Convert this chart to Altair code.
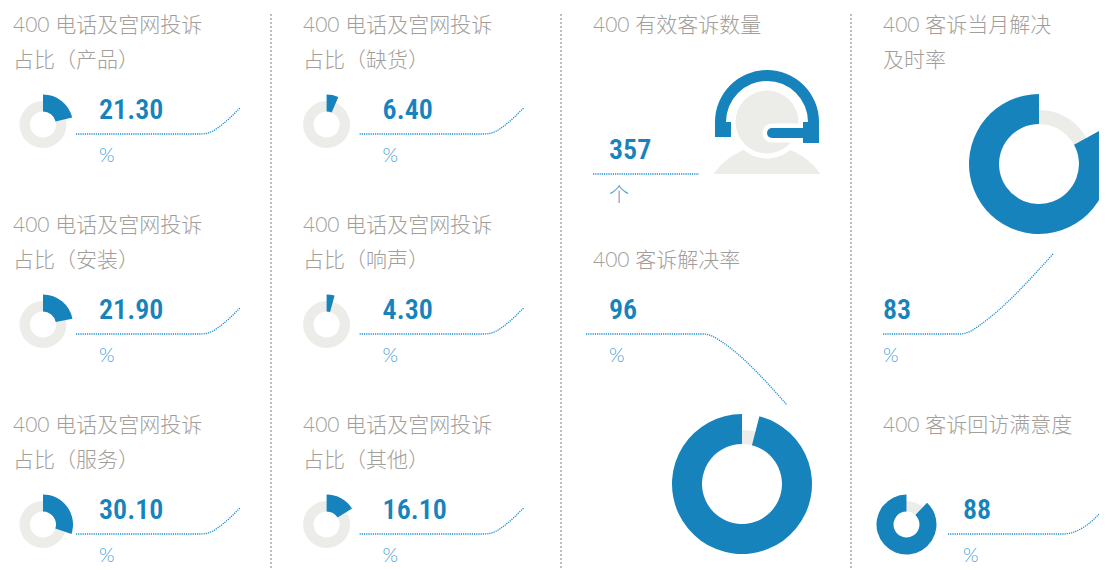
import altair as alt
import numpy as np
import pandas as pd

# ---- data ----
small_cats = ["产品", "安装", "服务", "缺货", "响声", "其他"]
small_vals = [21.30, 21.90, 30.10, 6.40, 4.30, 16.10]
effective_count = 357
resolve_rate = 96
timely_rate = 83
satisfaction = 88

BLUE = "#1783bd"
GREY = "#ecede8"
TITLE_C = "#a29e9a"
UNIT_C = "#4a9fd4"
CJK = "Lato, 'Noto Sans CJK SC'"
NUMF = "'Roboto Condensed',Roboto"

W, H = 1091, 562
X = lambda f="x": alt.X(f"{f}:Q", scale=alt.Scale(domain=[8, 8 + W], nice=False, zero=False), axis=None)
Y = lambda f="y": alt.Y(f"{f}:Q", scale=alt.Scale(domain=[8 + H, 8], nice=False, zero=False), axis=None)
THETA = alt.Scale(domain=[0, 100], range=[0, 2 * np.pi])

# ---- layout ----
title_x = [13, 303]
body_x = [13, 296.6]
row_y = [25, 225, 425]
titles, numbers, units, arcs, lines = [], [], [], [], []

def conn(idn, pts):
    for i, (x, y) in enumerate(pts):
        lines.append({"id": idn, "o": i, "x": x, "y": y})

CURVE = [(124, 0), (130, -0.5), (137, -3), (143, -7), (164, -26)]

k = 0
for c, cx in enumerate(title_x):
    bx = body_x[c]
    for r, ry in enumerate(row_y):
        titles.append({"x": cx, "y": ry + 1, "t": "400 电话及宫网投诉"})
        titles.append({"x": cx, "y": ry + 36, "t": f"占比（{small_cats[k]}）"})
        v = small_vals[k]
        numbers.append({"x": bx + 86, "y": ry + 86, "t": f"{v:.2f}"})
        units.append({"x": bx + 86, "y": ry + 131, "t": "%"})
        dx, dy = bx + 30, ry + 99.5
        arcs.append({"x": dx, "y": dy, "a": 0, "b": 100, "r": 23.5, "r2": 13, "k": "t"})
        arcs.append({"x": dx, "y": dy, "a": 0, "b": v, "r": 30, "r2": 13, "k": "v"})
        sx, sy = bx + 63, ry + 109
        conn(f"s{k}", [(sx, sy)] + [(sx + a, sy + b) for a, b in CURVE])
        k += 1

titles += [
    {"x": 593, "y": 26, "t": "400 有效客诉数量"},
    {"x": 883, "y": 26, "t": "400 客诉当月解决"},
    {"x": 883, "y": 61, "t": "及时率"},
    {"x": 593, "y": 261, "t": "400 客诉解决率"},
    {"x": 883, "y": 426, "t": "400 客诉回访满意度"},
]
numbers += [
    {"x": 609, "y": 151, "t": str(effective_count)},
    {"x": 609, "y": 311, "t": str(resolve_rate)},
    {"x": 883, "y": 311, "t": str(timely_rate)},
    {"x": 963, "y": 511, "t": str(satisfaction)},
]
units += [
    {"x": 609, "y": 196, "t": "个"},
    {"x": 609, "y": 356, "t": "%"},
    {"x": 883, "y": 356, "t": "%"},
    {"x": 963, "y": 556, "t": "%"},
]
for (dx, dy, v, ro, rt, ri) in [
    (742, 484, resolve_rate, 70, 54, 40),
    (1039, 164, timely_rate, 70, 54, 40),
    (906.5, 524.5, satisfaction, 30, 23.5, 13),
]:
    arcs.append({"x": dx, "y": dy, "a": 0, "b": 100, "r": rt, "r2": ri, "k": "t"})
    arcs.append({"x": dx, "y": dy, "a": 100 - v, "b": 100, "r": ro, "r2": ri, "k": "v"})

conn("a", [(593, 174), (699, 174)])
conn("b", [(586, 334), (704, 334), (713, 336.5), (722, 342), (787, 405)])
conn("c", [(883, 334), (960, 334), (971, 331), (980, 325), (1053, 254)])
conn("d", [(948, 534), (1064, 534), (1074, 532), (1084, 527), (1105, 508)])

div = pd.DataFrame({"x": [271, 561, 851], "y": [14] * 3, "y2": [568] * 3})

arcs_df = pd.DataFrame(arcs)
base_arc = alt.Chart(arcs_df)


def arc_enc(ch):
    return ch.encode(
        x=X(), y=Y(),
        theta=alt.Theta("a:Q", scale=THETA),
        theta2=alt.Theta2("b:Q"),
        radius=alt.Radius("r:Q", scale=None),
        radius2=alt.Radius2("r2:Q"),
    )


def arc_layer(kind, color):
    return arc_enc(base_arc.transform_filter(alt.datum.k == kind).mark_arc(color=color))


def text_layer(rows, **kw):
    return alt.Chart(pd.DataFrame(rows)).mark_text(align="left", baseline="middle", **kw).encode(
        x=X(), y=Y(), text="t:N"
    )


# ---- headset icon ----
ICX, ICY = 767, 122
sx_ = np.linspace(714, 820, 41)
should = pd.DataFrame({"x": sx_, "y": 210.4 - np.sqrt(np.maximum(64.6**2 - (sx_ - ICX) ** 2, 0)), "y2": 174})
shoulder = alt.Chart(should).mark_area(color=GREY, interpolate="monotone").encode(
    x=X(), y=Y(), y2=alt.Y2("y2:Q")
)


def one_arc(row, color):
    return arc_enc(alt.Chart(pd.DataFrame([row])).mark_arc(color=color))


halo = one_arc({"x": ICX, "y": ICY, "a": 0, "b": 100, "r": 36.5, "r2": 0}, "#ffffff")
head = one_arc({"x": ICX, "y": ICY, "a": 0, "b": 100, "r": 31.5, "r2": 0}, GREY)
band = one_arc({"x": ICX, "y": ICY, "a": 75, "b": 125, "r": 52, "r2": 41}, BLUE)
ears = alt.Chart(pd.DataFrame([
    {"x": 715, "x2": 731, "y": 122, "y2": 137},
    {"x": 803, "x2": 819, "y": 122, "y2": 143},
])).mark_rect(color=BLUE).encode(x=X(), x2=alt.X2("x2:Q"), y=Y(), y2=alt.Y2("y2:Q"))
mic_df = pd.DataFrame({"x": [772, 806], "y": [133, 133]})
mic_halo = alt.Chart(mic_df).mark_line(color="#ffffff", strokeWidth=19, strokeCap="round").encode(x=X(), y=Y())
mic = alt.Chart(mic_df).mark_line(color=BLUE, strokeWidth=10, strokeCap="round").encode(x=X(), y=Y())

dividers = alt.Chart(div).mark_rule(color="#bdbdbd", strokeWidth=2, strokeDash=[2, 2]).encode(
    x=X(), y=Y(), y2=alt.Y2("y2:Q")
)
conn_layer = alt.Chart(pd.DataFrame(lines)).mark_line(
    color="#1b8fd0", strokeWidth=1.3, strokeDash=[1.2, 1], interpolate="monotone"
).encode(x=X(), y=Y(), detail="id:N", order="o:Q")

chart = alt.layer(
    dividers,
    arc_layer("t", GREY),
    arc_layer("v", BLUE),
    shoulder,
    halo,
    head,
    band,
    mic_halo,
    ears,
    mic,
    conn_layer,
    text_layer(titles, font=CJK, fontSize=21, fontWeight=300, color=TITLE_C),
    text_layer(numbers, font=NUMF, fontSize=28, fontWeight=600, color=BLUE),
    text_layer(units, font=CJK, fontSize=20, fontWeight=300, color=UNIT_C),
).properties(
    width=W, height=H, padding=0, background="#ffffff",
    autosize=alt.AutoSizeParams(type="none"),
).configure_view(stroke=None)

chart.save("out.html", embed_options={"renderer": "svg", "actions": False})
